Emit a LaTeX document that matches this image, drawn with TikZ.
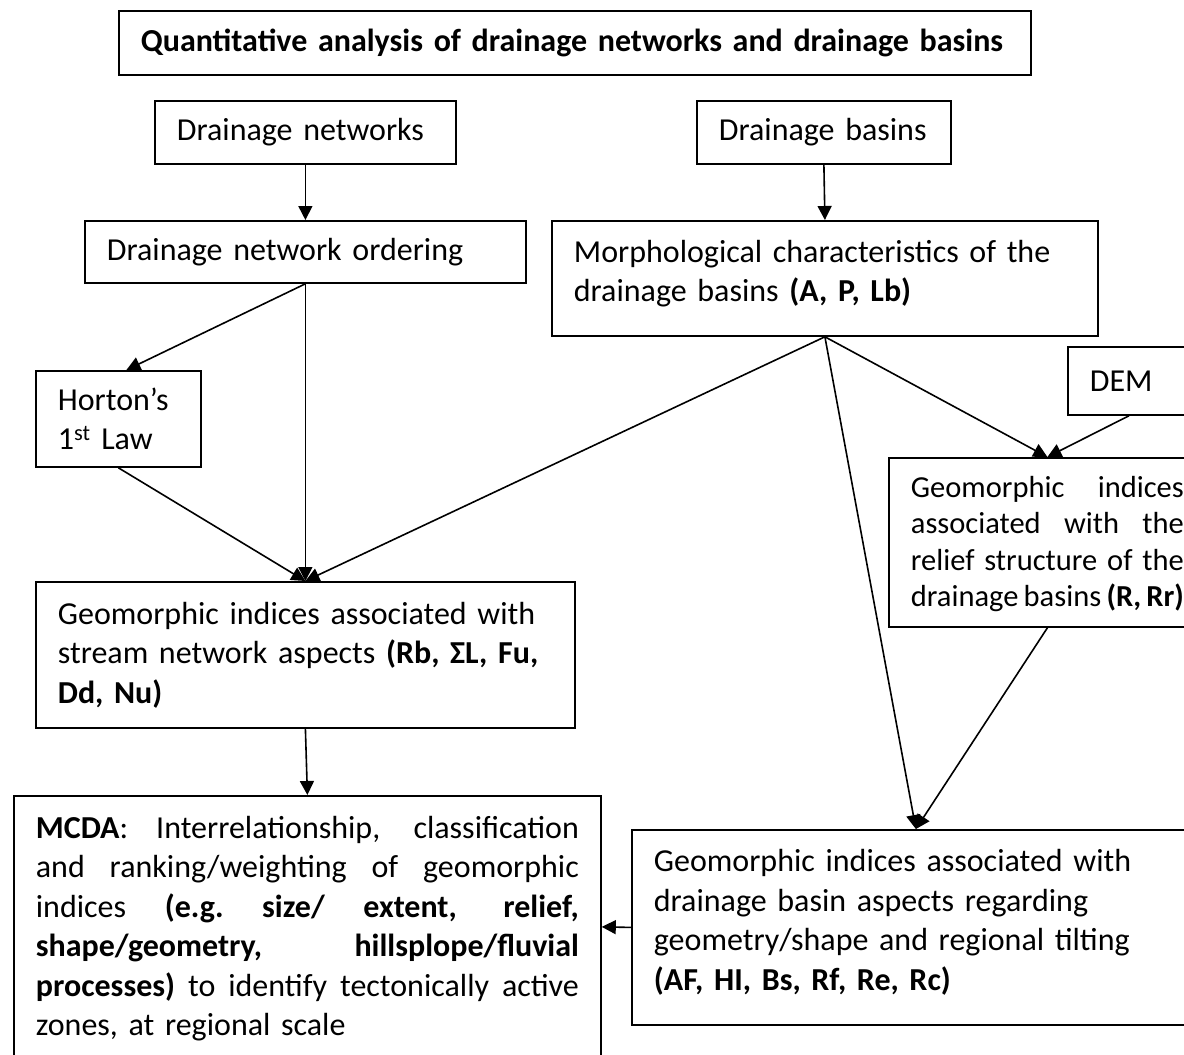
\documentclass[tikz,border=0pt]{standalone}
\usepackage{fontspec}
\setmainfont{Carlito}
\usetikzlibrary{arrows.meta}
\newcommand\jline[1]{\par\noindent\hbox to \hsize{\spaceskip=.22em plus 1fil\xspaceskip=.22em plus 1fil #1}\par}
\newcommand\tline[1]{\par\noindent\hbox to \hsize{\spaceskip=.17em plus 1fil\xspaceskip=.17em plus 1fil #1}\par}
\newcommand\lline[1]{\par\noindent\hbox to \hsize{#1\hfil}\par}
\newcommand\padbelow[1]{\par\vskip#1\hrule height0pt width0pt}
\begin{document}
\begin{tikzpicture}[x=1pt,y=-1pt,
 box/.style={draw, line width=1.8pt, rectangle, inner xsep=22pt, inner ysep=0pt,
   anchor=north west, font=\fontsize{32}{39.5}\selectfont, align=left},
 arr/.style={line width=1.6pt, -{Triangle[length=14pt,width=14pt]}}]
\useasboundingbox (0,0) rectangle (1184,1055);
\clip (0,0) rectangle (1184,1055);
\fill[white] (0,0) rectangle (1184,1055);

\node[box, text width=868pt, minimum height=64pt] (title) at (118,10)
  {\mbox{\textbf{Quantitative analysis of drainage networks and drainage basins}}};
\node[box, text width=257pt, minimum height=63pt] (dn) at (154,100) {\mbox{Drainage networks}};
\node[box, text width=210pt, minimum height=63pt] (db) at (696,100) {\mbox{Drainage basins}};
\node[box, text width=397pt, minimum height=62pt] (ord) at (84,220) {\mbox{Drainage network ordering}};
\node[box, text width=502pt, minimum height=115pt] (morph) at (551,220)
  {Morphological characteristics of the\\drainage basins \textbf{(A, P, Lb)}\padbelow{10pt}};
\node[box, text width=121pt, minimum height=96pt] (hort) at (35,370)
  {Horton’s\\1\textsuperscript{st} Law};
\node[box, text width=78pt, minimum height=68pt] (dem) at (1067,346) {DEM};
\node[box, text width=273pt, minimum height=169pt, font=\fontsize{30.5}{36.3}\selectfont] (relief) at (888,457)
  {\jline{Geomorphic indices}\jline{associated with the}\jline{relief structure of the}\tline{drainage basins \textbf{(R, Rr)}}\padbelow{12pt}};
\node[box, text width=495pt, minimum height=146pt] (stream) at (35,581)
  {Geomorphic indices associated with\\stream network aspects \textbf{(Rb, ΣL, Fu,}\\\textbf{Dd, Nu)}};
\node[box, text width=543pt, minimum height=262pt] (mcda) at (13,795)
  {\jline{\textbf{MCDA}: Interrelationship, classification}%
   \jline{and ranking/weighting of geomorphic}%
   \jline{indices \textbf{(e.g. size/ extent, relief,}}%
   \jline{\textbf{shape/geometry, hillsplope/fluvial}}%
   \jline{\textbf{processes)} to identify tectonically active}%
   \lline{zones, at regional scale}\padbelow{14pt}};
\node[box, text width=524pt, minimum height=195pt] (asp) at (631,829)
  {Geomorphic indices associated with\\drainage basin aspects regarding\\geometry/shape and regional tilting\\\textbf{(AF, HI, Bs, Rf, Re, Rc)}\padbelow{10pt}};

\draw[arr] (dn.south) -- (ord.north);
\draw[arr] (db.south) -- (morph.north);
\draw[arr] (ord.south) -- ([xshift=8pt]hort.north);
\draw[arr] (ord.south) -- (stream.north);
\draw[arr] (hort.south) -- (stream.north);
\draw[arr] (morph.south) -- (stream.north);
\draw[arr] (morph.south) -- (relief.north);
\draw[arr] (dem.south) -- (relief.north);
\draw[arr] (morph.south) -- (asp.north);
\draw[arr] (relief.south) -- (asp.north);
\draw[arr] (stream.south) -- (mcda.north);
\draw[arr] (asp.west) -- (mcda.east);
\end{tikzpicture}
\end{document}
